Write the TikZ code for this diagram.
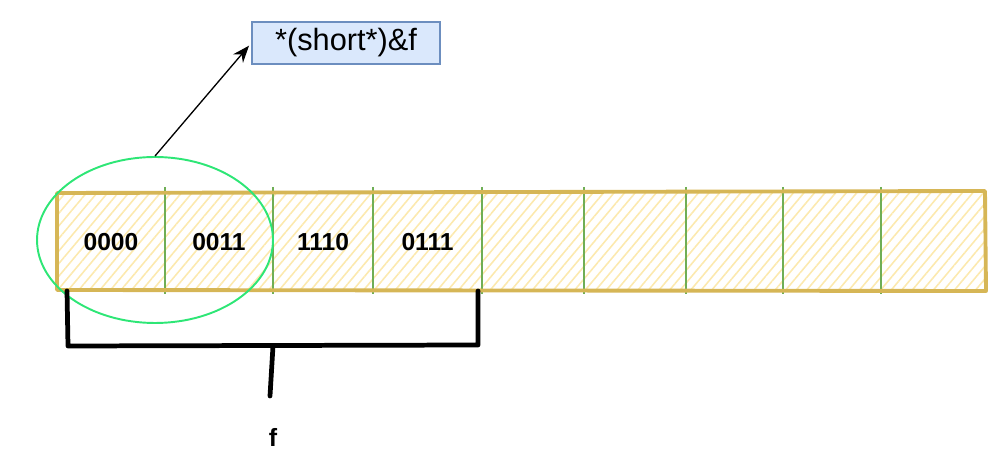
\documentclass[tikz,border=0pt]{standalone}
\usepackage{fontspec}
\setmainfont{Liberation Sans}
\usetikzlibrary{arrows.meta,positioning,patterns.meta,shapes.geometric}

\definecolor{hatchcol}{HTML}{FCE9AE}
\definecolor{stripcol}{HTML}{D6B656}
\definecolor{divcol}{HTML}{6FAE55}
\definecolor{selcol}{HTML}{2EE676}
\definecolor{castfill}{HTML}{DAE8FC}
\definecolor{castdraw}{HTML}{6C8EBF}

\begin{document}
\begin{tikzpicture}[
  x=0.02cm, y=-0.02cm,
  cell/.style  ={font=\fontsize{14pt}{16pt}\selectfont\bfseries, inner sep=0pt},
  divider/.style={divcol, line width=1.2pt},
  border/.style={stripcol, line width=2.2pt, line join=round},
  sel/.style   ={ellipse, draw=selcol, line width=1.1pt, minimum width=4.72cm,
                 minimum height=3.32cm, inner sep=0pt},
  cast/.style  ={draw=castdraw, fill=castfill, line width=0.8pt, minimum width=3.76cm,
                 minimum height=0.84cm, inner sep=0pt, font=\fontsize{17.5pt}{20pt}\selectfont},
  arr/.style   ={-{Stealth[length=3.4mm,width=2.6mm]}, line width=0.75pt},
  brace/.style ={line width=2.7pt, line join=round, line cap=round},
]

\useasboundingbox (0,0) rectangle (994,472);

\def\ytop{193}
\def\ybot{290}

% hatched byte strip
\fill[pattern={Lines[angle=50,distance=4.6pt,line width=0.9pt]}, pattern color=hatchcol]
  (57,\ytop) rectangle (985,\ybot);

\foreach \xa/\xb/\val [count=\i] in {57/165/0000, 165/273/0011, 273/373/1110, 373/482/0111,
    482/584/, 584/686/, 686/783/, 783/881/, 881/985/}
  \node[cell] (c\i) at ({(\xa+\xb)/2},242) {\val};

\foreach \xd in {165,273,373,482,584,686,783,881}
  \draw[divider] (\xd,187) -- (\xd,294);

\draw[border] (57,\ytop) -- (985,191) -- (986,291) -- (57,\ybot) -- cycle;

% first two bytes, read as short
\node[sel]  (s) at (155,240) {};
\node[cast] (t) at (346,43) {*(short*)\&f};
\draw[arr, shorten >=2pt] (s.north) -- (t.west);

% span of f
\coordinate (bl) at (67,291);
\coordinate (br) at (478,291);
\coordinate (bm) at (273,346);
\node[font=\fontsize{14.2pt}{16pt}\selectfont\bfseries] (f) at (273,437) {f};
\draw[brace] (bl) -- (68,346) -- (478,345) -- (br);
\draw[brace] (bm) -- (270,396);

\end{tikzpicture}
\end{document}
